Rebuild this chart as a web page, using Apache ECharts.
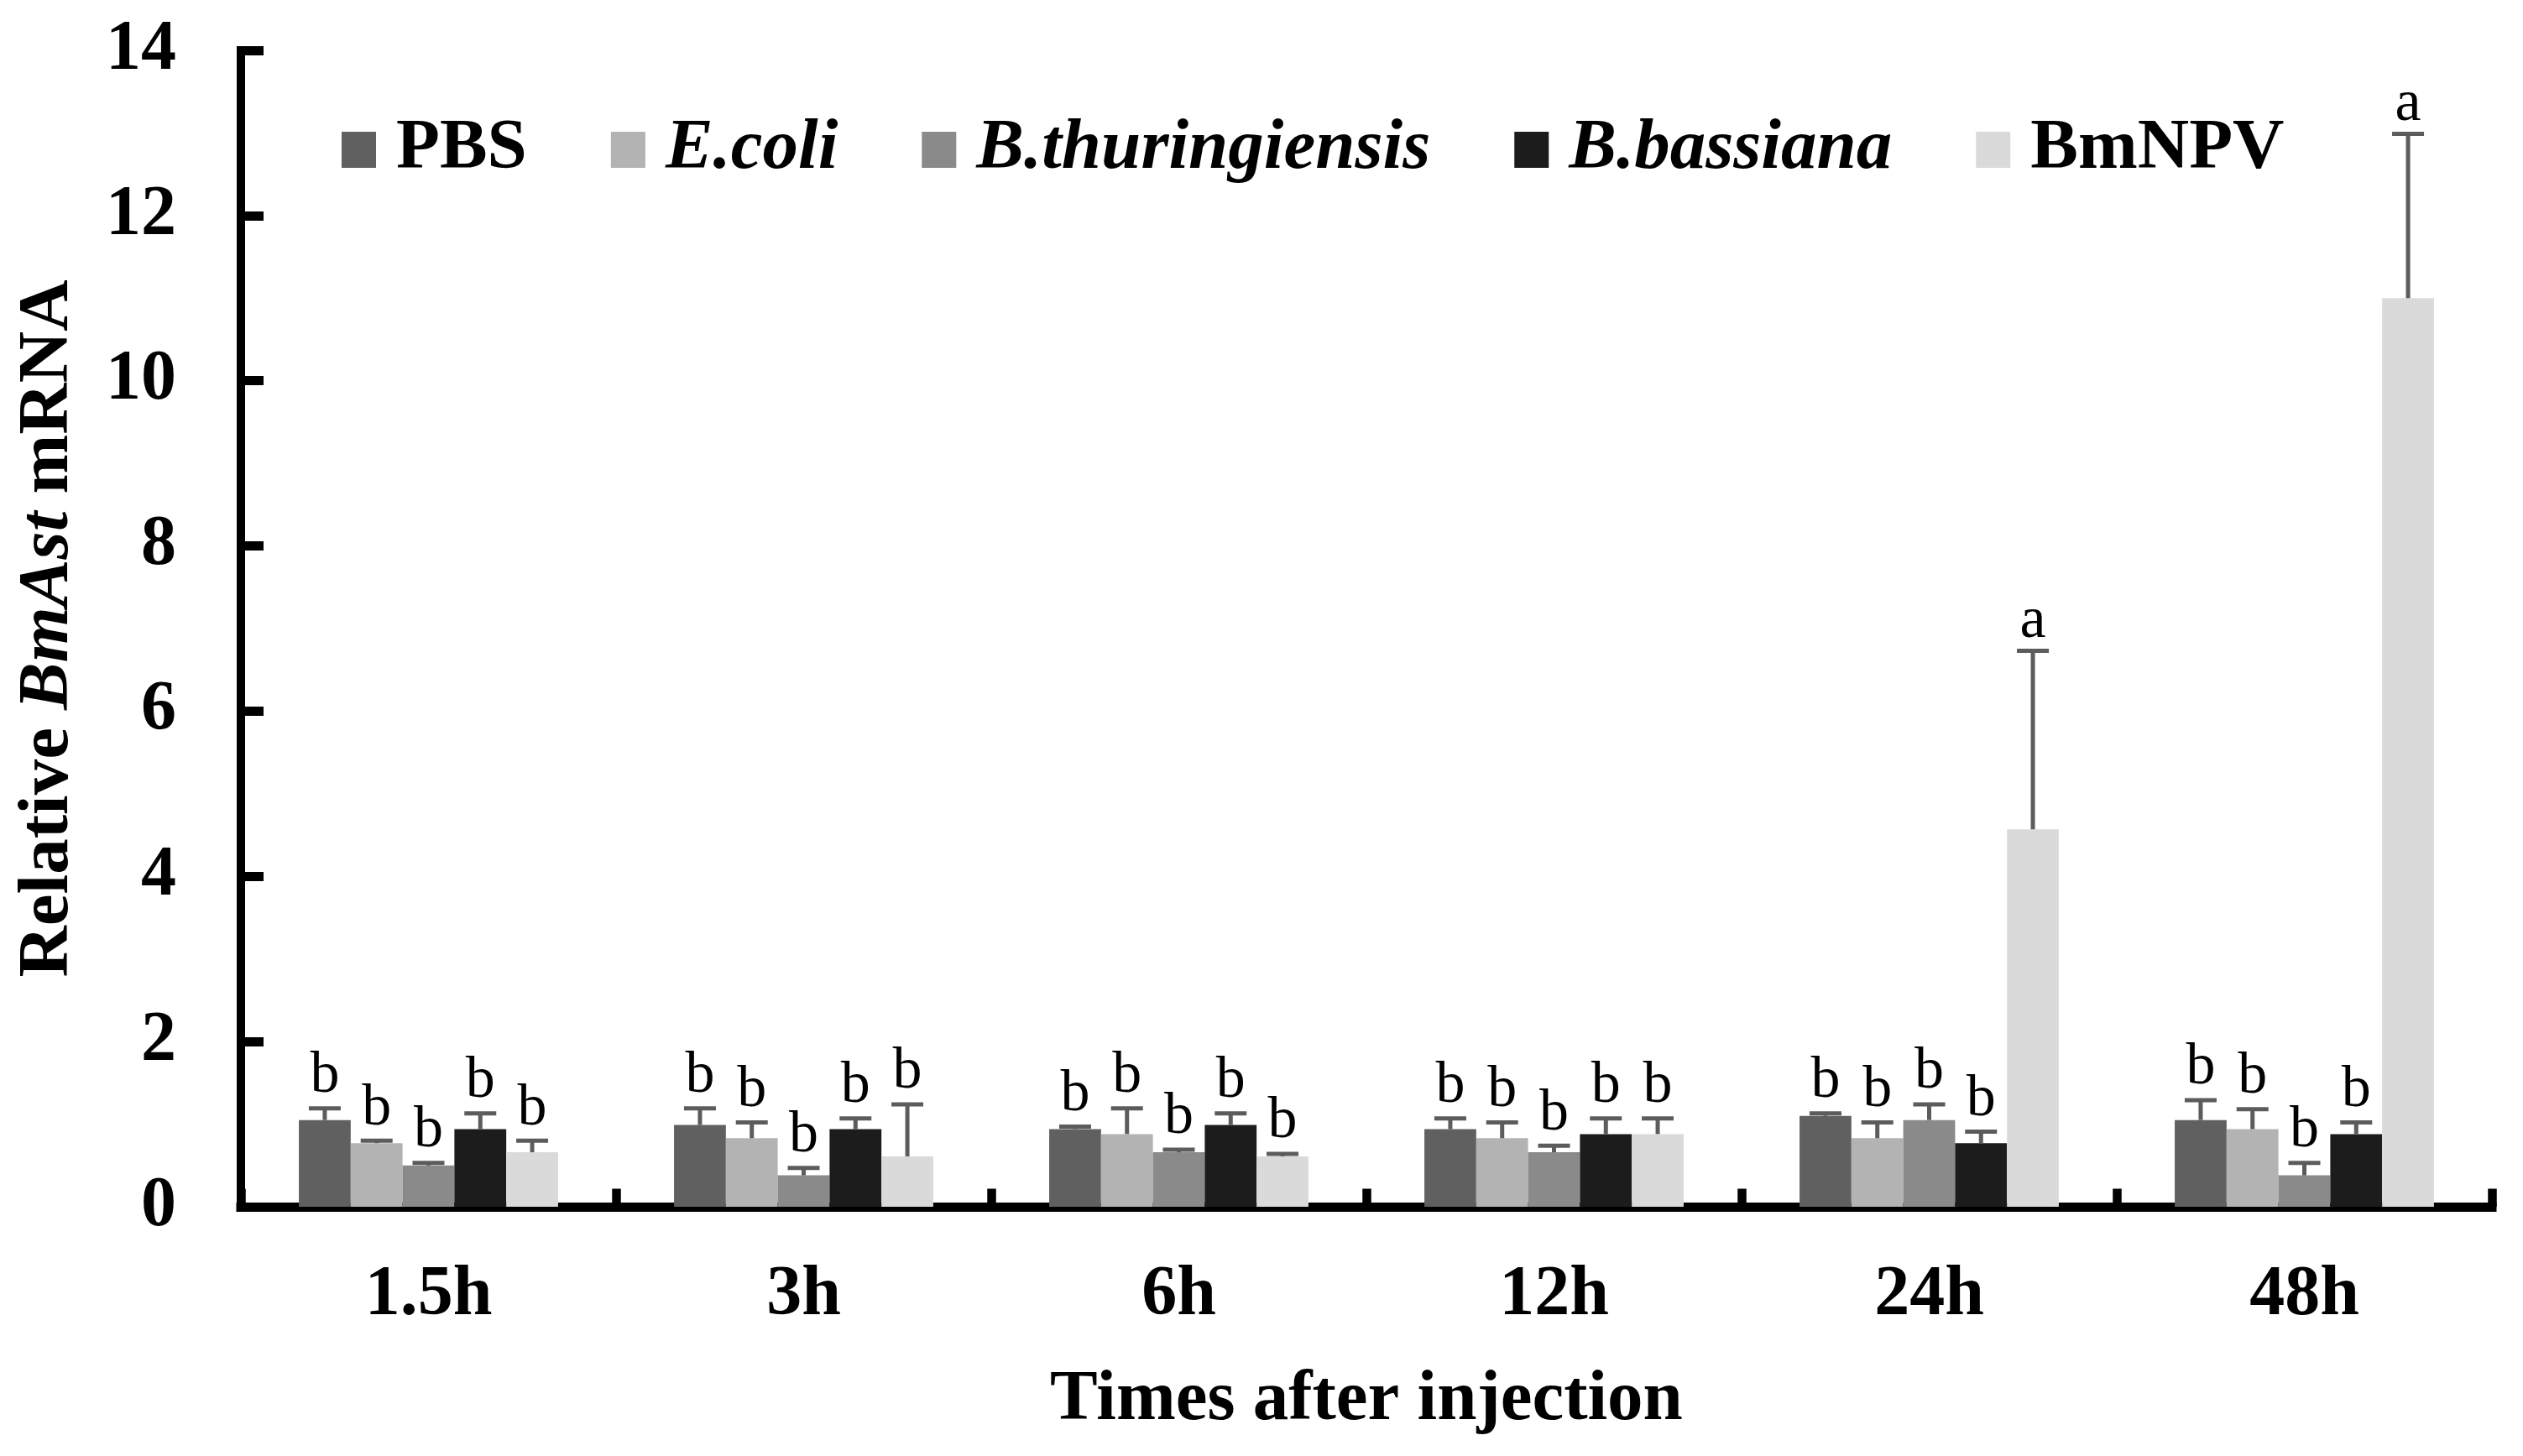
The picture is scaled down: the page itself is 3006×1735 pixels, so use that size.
<!DOCTYPE html>
<html>
<head>
<meta charset="utf-8">
<script src="https://cdn.jsdelivr.net/npm/echarts@6/dist/echarts.min.js"></script>
<style>
html,body{margin:0;padding:0;background:#fff;}
#chart{width:3006px;height:1735px;}
</style>
</head>
<body>
<div id="chart"></div>
<script>
// ---- data ----
const categories = ['1.5h', '3h', '6h', '12h', '24h', '48h'];
const seriesNames = ['PBS', 'E.coli', 'B.thuringiensis', 'B.bassiana', 'BmNPV'];
const italicNames = ['E.coli', 'B.thuringiensis', 'B.bassiana'];
const PBS      = [1.05, 0.99, 0.94, 0.94, 1.10, 1.05];
const PBS_err  = [0.14, 0.20, 0.03, 0.13, 0.03, 0.24];
const Ecoli    = [0.77, 0.83, 0.88, 0.83, 0.83, 0.94];
const Ecoli_err= [0.03, 0.19, 0.31, 0.19, 0.19, 0.24];
const Bt       = [0.50, 0.38, 0.66, 0.66, 1.05, 0.38];
const Bt_err   = [0.03, 0.09, 0.03, 0.08, 0.19, 0.15];
const Bb       = [0.94, 0.94, 0.99, 0.88, 0.77, 0.88];
const Bb_err   = [0.19, 0.13, 0.14, 0.19, 0.14, 0.14];
const BmNPV    = [0.66, 0.61, 0.61, 0.88, 4.57, 11.00];
const BmNPV_err= [0.14, 0.63, 0.03, 0.19, 2.16, 1.99];
const PBS_sig   = ['b','b','b','b','b','b'];
const Ecoli_sig = ['b','b','b','b','b','b'];
const Bt_sig    = ['b','b','b','b','b','b'];
const Bb_sig    = ['b','b','b','b','b','b'];
const BmNPV_sig = ['b','b','b','b','a','a'];
const yTicks = {min: 0, max: 14, interval: 2};

const values = [PBS, Ecoli, Bt, Bb, BmNPV];
const errors = [PBS_err, Ecoli_err, Bt_err, Bb_err, BmNPV_err];
const sigs = [PBS_sig, Ecoli_sig, Bt_sig, Bb_sig, BmNPV_sig];
const colors = ['#606060', '#b3b3b3', '#8a8a8a', '#1c1c1c', '#dadada'];

const FONT = '"Liberation Serif", "Times New Roman", serif';
const CAT_GAP = 0.309;
const ERR_COLOR = '#5c5c5c';

const chart = echarts.init(document.getElementById('chart'), null, {renderer: 'canvas'});

const series = [];
seriesNames.forEach((nm, i) => {
  series.push({
    type: 'bar',
    name: nm,
    data: values[i],
    barGap: '0%',
    barCategoryGap: (CAT_GAP * 100) + '%',
    itemStyle: {color: colors[i]},
    emphasis: {disabled: true},
    z: 2
  });
});
seriesNames.forEach((nm, i) => {
  series.push({
    type: 'custom',
    name: 'err_' + i,
    z: 4,
    silent: true,
    data: categories.map((c, k) => [k, values[i][k], errors[i][k]]),
    renderItem: function (params, api) {
      const c = api.value(0), v = api.value(1), e = api.value(2);
      const band = api.size([1, 0])[0];
      const bw = band * (1 - CAT_GAP) / 5;
      const x = api.coord([c, 0])[0] + (i - 2) * bw;
      const y0 = api.coord([c, v])[1];
      const y1 = api.coord([c, v + e])[1];
      const letter = sigs[i][params.dataIndex];
      return {
        type: 'group',
        children: [
          {type: 'line', shape: {x1: x, y1: y0, x2: x, y2: y1}, style: {stroke: ERR_COLOR, lineWidth: 5}},
          {type: 'line', shape: {x1: x - 19, y1: y1, x2: x + 19, y2: y1}, style: {stroke: ERR_COLOR, lineWidth: 5}},
          {type: 'text', x: x, y: y1 - (letter === 'a' ? 0 : 3),
            style: {text: letter, fontSize: 70, fontFamily: FONT, fill: '#000', align: 'center', verticalAlign: 'bottom'}}
        ]
      };
    }
  });
});

const option = {
  backgroundColor: '#ffffff',
  animation: false,
  grid: {left: 287, right: 37, top: 60, bottom: 297, containLabel: false, outerBoundsMode: 'none'},
  legend: {
    data: seriesNames,
    left: 407,
    top: 136,
    padding: 0,
    icon: 'rect',
    itemWidth: 41,
    itemHeight: 43,
    itemGap: 100,
    selectedMode: false,
    formatter: function (name) {
      return italicNames.indexOf(name) >= 0 ? '{i|' + name + '}' : '{n|' + name + '}';
    },
    textStyle: {
      fontFamily: FONT, fontSize: 85, fontWeight: 'bold', color: '#000',
      padding: [0, 0, 0, 19],
      rich: {
        n: {fontFamily: FONT, fontSize: 85, fontWeight: 'bold', color: '#000', lineHeight: 85},
        i: {fontFamily: FONT, fontSize: 85, fontWeight: 'bold', fontStyle: 'italic', color: '#000', lineHeight: 85}
      }
    }
  },
  xAxis: {
    type: 'category',
    data: categories,
    boundaryGap: true,
    offset: 5.5,
    axisLine: {show: true, lineStyle: {color: '#000', width: 11, cap: 'square'}},
    axisTick: {show: true, inside: true, length: 21.5, alignWithLabel: false, lineStyle: {color: '#000', width: 10.5}},
    axisLabel: {margin: 58, fontFamily: FONT, fontSize: 84, fontWeight: 'bold', color: '#000', lineHeight: 85},
    splitLine: {show: false},
    name: 'Times after injection',
    nameLocation: 'middle',
    nameGap: 183,
    nameTextStyle: {fontFamily: FONT, fontSize: 85, fontWeight: 'bold', color: '#000', lineHeight: 85}
  },
  yAxis: {
    type: 'value',
    min: yTicks.min,
    max: yTicks.max,
    interval: yTicks.interval,
    axisLine: {show: true, lineStyle: {color: '#000', width: 10, cap: 'square'}},
    axisTick: {show: true, inside: true, length: 27, lineStyle: {color: '#000', width: 11}},
    axisLabel: {margin: 77, fontFamily: FONT, fontSize: 84, fontWeight: 'bold', color: '#000'},
    splitLine: {show: false},
    name: '{n|Relative }{i|BmAst}{n| mRNA}',
    nameLocation: 'middle',
    nameGap: 186,
    nameTextStyle: {
      fontFamily: FONT, fontSize: 85, fontWeight: 'bold', color: '#000', lineHeight: 85,
      rich: {
        n: {fontFamily: FONT, fontSize: 85, fontWeight: 'bold', color: '#000', lineHeight: 85},
        i: {fontFamily: FONT, fontSize: 85, fontWeight: 'bold', fontStyle: 'italic', color: '#000', lineHeight: 85}
      }
    }
  },
  series: series
};
chart.setOption(option);
</script>
</body>
</html>
